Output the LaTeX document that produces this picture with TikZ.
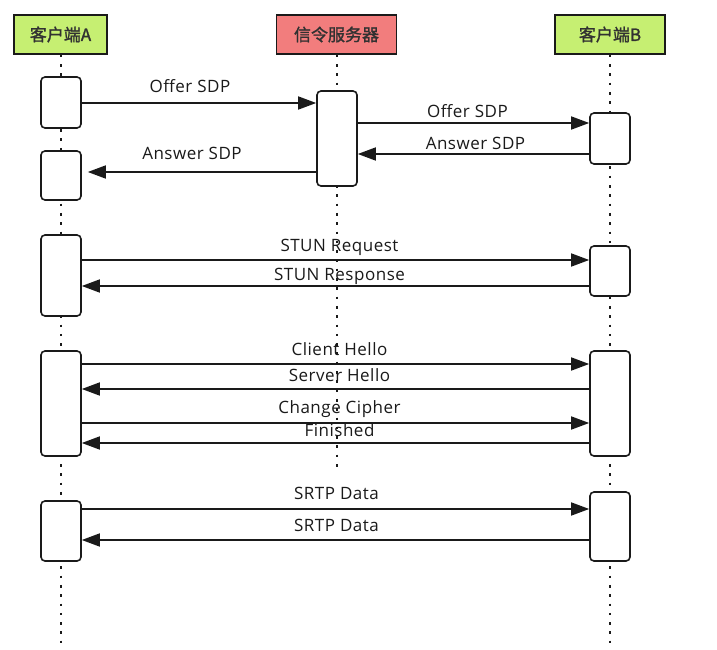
\documentclass[tikz,border=0pt]{standalone}
\usepackage{fontspec}
\setmainfont{Open Sans}[LetterSpace=3]
\newfontfamily\cjk{Noto Sans CJK SC}[FakeBold=1.4]
\usetikzlibrary{arrows.meta}
\definecolor{hgreen}{HTML}{C6EF72}
\definecolor{hred}{HTML}{F27D7D}
\definecolor{ink}{HTML}{1A1A1A}
\begin{document}
\begin{tikzpicture}[x=1pt,y=-1pt,
  header/.style={draw=ink,line width=1.6pt,minimum height=39pt,inner sep=0pt,font=\cjk\fontsize{17}{17}\selectfont,text=ink!90},
  actbox/.style={draw=ink,fill=white,line width=1.6pt,rounded corners=4pt,minimum width=40pt,inner sep=0pt},
  life/.style={draw=ink,line width=2pt,dash pattern=on 2.6pt off 6.7pt},
  msg/.style={draw=ink,line width=1.6pt,-{Triangle[length=18pt,width=13pt]}},
  lbl/.style={font=\fontsize{17}{17}\selectfont,text=ink,inner sep=0pt,text height=12.5pt,text depth=3.5pt}]
\useasboundingbox[fill=white] (0,0) rectangle (717,650);
% headers
\node[header,fill=hgreen,minimum width=93pt] (hA) at (60.5,34.5) {客户端A};
\node[header,fill=hred,minimum width=120pt] (hS) at (336.5,34.5) {信令服务器};
\node[header,fill=hgreen,minimum width=110pt] (hB) at (610,34.5) {客户端B};
% lifeline ends
\coordinate (eA) at (61,645);
\coordinate (eS) at (337,468);
\coordinate (eB) at (610,645);
\draw[life] (hA.south -| eA) -- (eA);
\draw[life] (hS.south -| eS) -- (eS);
\draw[life] (hB.south -| eB) -- (eB);
% activation boxes
\node[actbox,minimum height=51pt] (a1) at (61,102.5) {};
\node[actbox,minimum height=49pt] (a2) at (61,175.5) {};
\node[actbox,minimum height=95pt] (s1) at (337,138.5) {};
\node[actbox,minimum height=51pt] (b1) at (610,138.5) {};
\node[actbox,minimum height=81pt] (a3) at (61,275.5) {};
\node[actbox,minimum height=50pt] (b2) at (610,271) {};
\node[actbox,minimum height=105pt] (a4) at (61,403.5) {};
\node[actbox,minimum height=105pt] (b4) at (610,403.5) {};
\node[actbox,minimum height=60pt] (a5) at (61,531) {};
\node[actbox,minimum height=69pt] (b5) at (610,526.5) {};
% message levels
\coordinate (m1) at (0,103);
\coordinate (m2) at (0,123);
\coordinate (m3) at (0,154);
\coordinate (m4) at (0,172);
\coordinate (m5) at (0,260);
\coordinate (m6) at (0,286);
\coordinate (m7) at (0,364);
\coordinate (m8) at (0,389);
\coordinate (m9) at (0,423);
\coordinate (m10) at (0,443);
\coordinate (m11) at (0,509);
\coordinate (m12) at (0,540);
% messages
\draw[msg] (a1.east |- m1) -- node[lbl,xshift=-9pt,yshift=15pt] {Offer SDP} (s1.west |- m1);
\draw[msg] (s1.east |- m2) -- node[lbl,xshift=-6pt,yshift=10pt] {Offer SDP} (b1.west |- m2);
\draw[msg] (b1.west |- m3) -- node[lbl,xshift=2pt,yshift=9pt] {Answer SDP} (s1.east |- m3);
\draw[msg,shorten >=6pt] (s1.west |- m4) -- node[lbl,xshift=-7pt,yshift=17pt] {Answer SDP} (a2.east |- m4);
\draw[msg] (a3.east |- m5) -- node[lbl,xshift=4pt,yshift=13pt] {STUN Request} (b2.west |- m5);
\draw[msg] (b2.west |- m6) -- node[lbl,xshift=4pt,yshift=10pt] {STUN Response} (a3.east |- m6);
\draw[msg] (a4.east |- m7) -- node[lbl,xshift=4pt,yshift=13pt] {Client Hello} (b4.west |- m7);
\draw[msg] (b4.west |- m8) -- node[lbl,xshift=4pt,yshift=12pt] {Server Hello} (a4.east |- m8);
\draw[msg] (a4.east |- m9) -- node[lbl,xshift=4pt,yshift=14pt] {Change Cipher} (b4.west |- m9);
\draw[msg] (b4.west |- m10) -- node[lbl,xshift=4pt,yshift=11pt] {Finished} (a4.east |- m10);
\draw[msg] (a5.east |- m11) -- node[lbl,xshift=1pt,yshift=14pt] {SRTP Data} (b5.west |- m11);
\draw[msg] (b5.west |- m12) -- node[lbl,xshift=1pt,yshift=13pt] {SRTP Data} (a5.east |- m12);
\end{tikzpicture}
\end{document}
